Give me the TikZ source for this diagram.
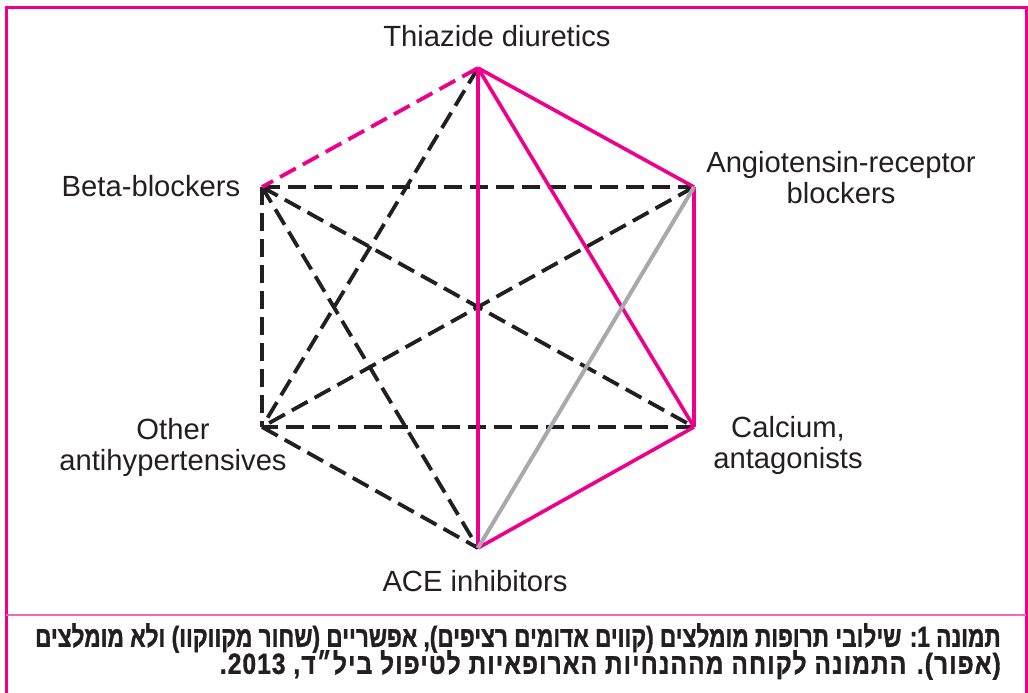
\documentclass[tikz,border=0pt]{standalone}
\usepackage{fontspec}
\setmainfont{Liberation Sans}
\newfontfamily\hebfont[Script=Hebrew, FakeStretch=0.78, BoldFeatures={FakeBold=1.2}]{Liberation Sans}
\newfontfamily\hebfontlarga[Script=Hebrew, FakeStretch=0.84, LetterSpace=4, BoldFeatures={FakeBold=1.2}]{Liberation Sans}
\TeXXeTstate=1
\definecolor{rosa}{HTML}{EC008C}
\definecolor{rosachiaro}{HTML}{F06AB8}
\definecolor{grigio}{HTML}{A7A9AC}
\definecolor{nero}{HTML}{231F20}

\begin{document}
\begin{tikzpicture}[x=0.5pt, y=-0.5pt,
		lbl/.style={font=\fontsize{14.6}{15.5}\selectfont, text=nero, align=center, inner sep=0pt},
		didasc/.style={font=\hebfont\bfseries\fontsize{14.5}{13}\selectfont, text=nero, anchor=east, inner sep=0pt},
		ok/.style={rosa, line width=1.8pt},
		maybe/.style={nero, line width=1.9pt, dash pattern=on 9pt off 4pt},
		no/.style={grigio, line width=2pt}]
		\useasboundingbox (0, 0) rectangle (1028, 692);

		\coordinate (T) at (478, 68);
		\coordinate (ARB) at (694, 187);
		\coordinate (Ca) at (694, 427);
		\coordinate (ACE) at (478, 548);
		\coordinate (O) at (262, 427);
		\coordinate (B) at (262, 187);

		% cornice
		\draw[rosa, line width=1.5pt] (6, 700) -- (6, 7) -- (1026, 7) -- (1026, 700);
		\draw[rosachiaro, line width=1pt] (6, 614.5) -- (1026, 614.5);

		% etichette
		\node[lbl] (lT) at (497, 36) {Thiazide diuretics};
		\node[lbl] (lARB) at (841, 178) {Angiotensin-receptor\\blockers};
		\node[lbl] (lCa) at (788, 445) {Calcium,\\antagonists};
		\node[lbl] (lACE) at (475, 581) {ACE inhibitors};
		\node[lbl] (lO) at (173, 447) {Other\\antihypertensives};
		\node[lbl] (lB) at (151, 186) {Beta-blockers};

		% possibili
		\draw[maybe] (T) -- (O);
		\draw[maybe] (B) -- (ARB);
		\draw[maybe] (B) -- (Ca);
		\draw[maybe] (B) -- (ACE);
		\draw[maybe] (B) -- (O);
		\draw[maybe] (ARB) -- (O);
		\draw[maybe] (Ca) -- (O);
		\draw[maybe] (O) -- (ACE);
		\draw[maybe, rosa] (T) -- (B);

		% raccomandate
		\draw[ok] (T) -- (ARB);
		\draw[ok] (T) -- (Ca);
		\draw[ok] (T) -- (ACE);
		\draw[ok] (ARB) -- (Ca);
		\draw[ok] (Ca) -- (ACE);

		% non raccomandate
		\draw[no] (ARB) -- (ACE);

		% didascalia
		\node[didasc] (c1) at (1001, 638) {\beginR תמונה 1: שילובי תרופות מומלצים (קווים אדומים רציפים), אפשריים (שחור מקווקוו) ולא מומלצים\endR};
		\node[didasc, font=\hebfontlarga\bfseries\fontsize{14.5}{13}\selectfont] (c2) at (1001, 665) {\beginR (אפור). התמונה לקוחה מההנחיות הארופאיות לטיפול ביל״ד, 2013.\endR};
	\end{tikzpicture}
\end{document}
